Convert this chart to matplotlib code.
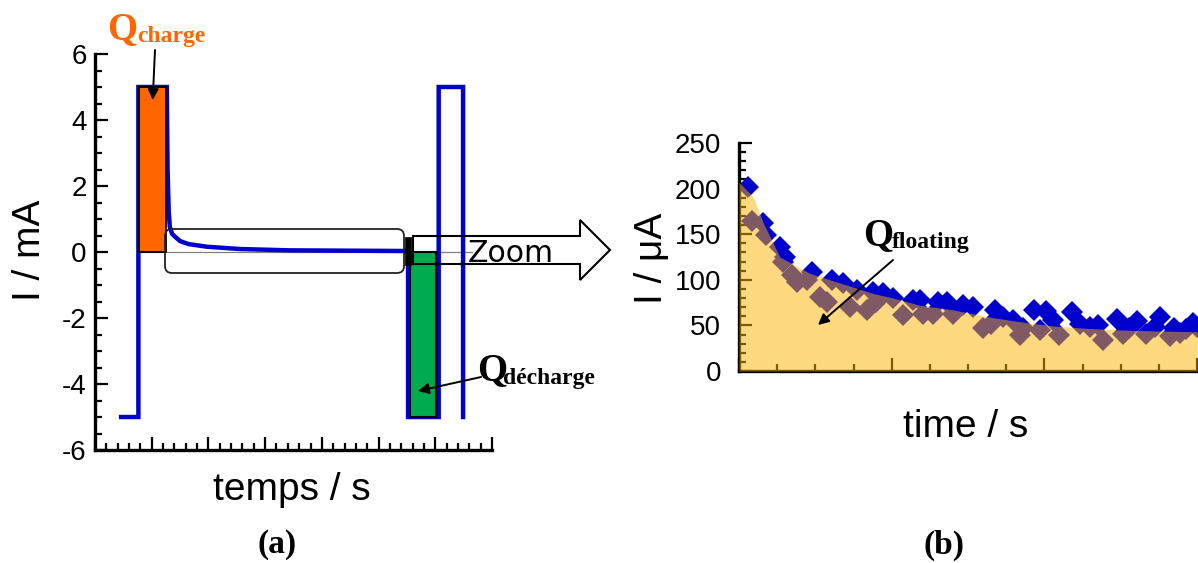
import matplotlib
matplotlib.use('Agg')
import matplotlib.pyplot as plt
from matplotlib.patches import Rectangle, FancyBboxPatch, Polygon
from matplotlib.transforms import Affine2D
from matplotlib.ticker import MultipleLocator, NullFormatter

plt.rcParams['axes.unicode_minus'] = False

# ---------------- data : panel (a) ----------------
trace_t = [0.46, 0.765, 0.765, 1.265, 1.28, 1.30, 1.32, 1.36, 1.42, 1.50, 1.65,
           1.97, 2.56, 3.44, 4.50, 5.52, 5.52, 6.06, 6.06, 6.49, 6.49]
trace_i = [-5, -5, 5, 5, 2.5, 1.2, 0.75, 0.55, 0.45, 0.33, 0.24,
           0.16, 0.09, 0.05, 0.04, 0.03, -5, -5, 5, 5, -5]
charge_t = [0.775, 1.255]
charge_i = 5.0
discharge_t = [5.555, 6.01]
discharge_i = -5.0
yticks_a = [-6, -4, -2, 0, 2, 4, 6]

# ---------------- data : panel (b) ----------------
fit_t = [0, 0.37, 0.64, 1.07, 1.38, 1.86, 2.38, 2.99, 3.51, 4.04, 4.74, 5.61,
         6.48, 7.36, 8.23, 9.10, 9.97, 10.84, 12.0]
fit_i = [207, 191, 162, 125, 118, 107, 100, 92, 85, 80, 72, 67,
         59.6, 54, 49.3, 46.8, 45, 44, 43]
meas_t = [0.24, 0.34, 0.63, 0.72, 1.07, 1.15, 1.20, 1.38, 1.51, 1.77, 1.90, 2.12,
          2.30, 2.43, 2.73, 2.91, 3.08, 3.34, 3.52, 3.60, 3.78, 4.04, 4.30, 4.56,
          4.74, 4.83, 5.09, 5.22, 5.44, 5.61, 5.87, 6.13, 6.40, 6.60, 6.70, 6.92,
          7.18, 7.36, 7.44, 7.72, 7.88, 8.03, 8.23, 8.37, 8.71, 8.93, 9.19, 9.40,
          9.52, 9.89, 10.06, 10.20, 10.41, 10.67, 10.90, 11.02, 11.28, 11.40, 11.54,
          11.70, 11.89, 12.0]
meas_i = [202, 165, 162, 149, 136, 120, 125, 105, 98, 100, 109, 81,
          76, 100, 96, 70, 89, 67, 87, 76, 85, 80, 61, 78,
          78, 63, 63, 76, 76, 63, 72, 70, 47, 52, 67, 59,
          56, 40, 47, 67, 45, 66, 56, 40, 65, 52, 48, 50,
          34, 57, 41, 47, 55, 41, 48, 59, 38, 47, 42,
          46, 53, 48]
yticks_b = [0, 50, 100, 150, 200, 250]

W, H = 1198, 563
fig = plt.figure(figsize=(W / 100, H / 100), dpi=100)
T = Affine2D().scale(1 / W, 1 / H) + fig.transFigure


def P(x, y):
    return (x, H - y)


def add_axes_px(x0, y0, x1, y1):
    return fig.add_axes([x0 / W, 1 - y1 / H, (x1 - x0) / W, (y1 - y0) / H])


SANS = 'Liberation Sans'
SERIF = 'Liberation Serif'
BLUE = '#0000CC'

# ---------------- panel (a) ----------------
ax = add_axes_px(95, 54, 492, 450)
ax.set_xlim(0, 7)
ax.set_ylim(-6, 6)
for s in ['top', 'right']:
    ax.spines[s].set_visible(False)
for s in ['left', 'bottom']:
    ax.spines[s].set_linewidth(2.4)
ax.xaxis.set_major_locator(MultipleLocator(1))
ax.xaxis.set_minor_locator(MultipleLocator(0.2))
ax.xaxis.set_major_formatter(NullFormatter())
ax.set_yticks(yticks_a)
ax.yaxis.set_minor_locator(MultipleLocator(0.5))
ax.tick_params(which='both', direction='in', width=1.6, colors='black')
ax.tick_params(which='major', length=9.5)
ax.tick_params(which='minor', length=5)
ax.tick_params(axis='y', labelsize=20, pad=6)
for lab in ax.get_yticklabels():
    lab.set_fontfamily(SANS)

ax.plot([charge_t[0], 6.65], [0, 0], color='#808080', lw=0.9, zorder=2)
ax.plot(trace_t, trace_i, color=BLUE, lw=3.2, zorder=3, solid_joinstyle='miter')
ax.add_patch(Rectangle((charge_t[0], 0), charge_t[1] - charge_t[0], charge_i,
                       facecolor='#FF6600', edgecolor='black', lw=1.3, zorder=4))
ax.add_patch(Rectangle((discharge_t[0], 0), discharge_t[1] - discharge_t[0], discharge_i,
                       facecolor='#00AA4F', edgecolor='black', lw=1.5, zorder=4))

# zoom box, marker and arrow (figure pixel coordinates)
fig.patches.append(FancyBboxPatch(P(165, 273), 239, 44,
                                  boxstyle='round,pad=0,rounding_size=7',
                                  transform=T, fill=False, edgecolor='#222222', lw=1.3))
fig.patches.append(Rectangle(P(405, 265), 6, 28, transform=T,
                             facecolor='black', edgecolor='black', lw=0.5))
arrow_pts = [P(413, 236), P(580, 236), P(580, 220), P(610, 250), P(580, 280),
             P(580, 264), P(413, 264)]
fig.patches.append(Polygon(arrow_pts, closed=True, transform=T, fill=False,
                           edgecolor='black', lw=1.5, joinstyle='miter'))
fig.text(468 / W, 1 - 262 / H, 'Zoom', fontsize=21.5, family='DejaVu Sans',
         ha='left', va='baseline')


def qlabel(x, y, sub, xs, ys, color):
    fig.text(x / W, 1 - y / H, 'Q', fontsize=28, family=SERIF, weight='bold',
             color=color, ha='left', va='baseline')
    fig.text(xs / W, 1 - ys / H, sub, fontsize=17, family=SERIF, weight='bold',
             color=color, ha='left', va='baseline')


qlabel(107, 39, 'charge', 137, 42, '#FF6600')
qlabel(477, 380, 'décharge', 503, 384, 'black')
qlabel(863, 245, 'floating', 892, 248, 'black')

arrow_kw = dict(arrowstyle='-|>', color='black', lw=1.4, mutation_scale=16,
                shrinkA=0, shrinkB=0)
ax.annotate('', xy=P(152.7, 100), xycoords=T, xytext=P(155, 50), textcoords=T,
            arrowprops=arrow_kw, zorder=6)
ax.annotate('', xy=P(418, 391), xycoords=T, xytext=P(481, 377), textcoords=T,
            arrowprops=arrow_kw, zorder=6)

fig.text(30 / W, 1 - 250 / H, 'I / mA', fontsize=28, family=SANS, rotation=90,
         ha='center', va='center')
fig.text(292 / W, 1 - 490 / H, 'temps / s', fontsize=28, family=SANS,
         ha='center', va='center')
fig.text(277 / W, 1 - 545 / H, '(a)', fontsize=24, family=SERIF, weight='bold',
         ha='center', va='center')

# ---------------- panel (b) ----------------
bx = add_axes_px(739, 143, 1198, 371)
bx.set_xlim(0, 12.02)
bx.set_ylim(0, 250)
for s in ['top', 'right']:
    bx.spines[s].set_visible(False)
for s in ['left', 'bottom']:
    bx.spines[s].set_linewidth(2.4)
bx.xaxis.set_major_locator(MultipleLocator(4))
bx.xaxis.set_minor_locator(MultipleLocator(1))
bx.xaxis.set_major_formatter(NullFormatter())
bx.set_yticks(yticks_b)
bx.yaxis.set_minor_locator(MultipleLocator(10))
bx.tick_params(which='both', direction='in', width=1.6, colors='black')
bx.tick_params(which='major', length=9.5)
bx.tick_params(which='minor', length=5)
bx.tick_params(axis='y', labelsize=20, pad=13)
for lab in bx.get_yticklabels():
    lab.set_fontfamily(SANS)

bx.plot(meas_t, meas_i, linestyle='none', marker='D', markersize=11.5,
        color=BLUE, markeredgewidth=0, zorder=2, clip_on=True)
bx.fill_between(fit_t, 0, fit_i, color='#FFB400', alpha=0.5, lw=0, zorder=3)
bx.annotate('', xy=P(818, 325), xycoords=T, xytext=P(893, 260), textcoords=T,
            arrowprops=arrow_kw, zorder=6)

fig.text(652 / W, 1 - 258 / H, 'I / μA', fontsize=28, family=SANS, rotation=90,
         ha='center', va='center')
fig.text(966 / W, 1 - 427 / H, 'time / s', fontsize=28, family=SANS,
         ha='center', va='center')
fig.text(944 / W, 1 - 545 / H, '(b)', fontsize=24, family=SERIF, weight='bold',
         ha='center', va='center')

fig.savefig('out.png', dpi=100)
